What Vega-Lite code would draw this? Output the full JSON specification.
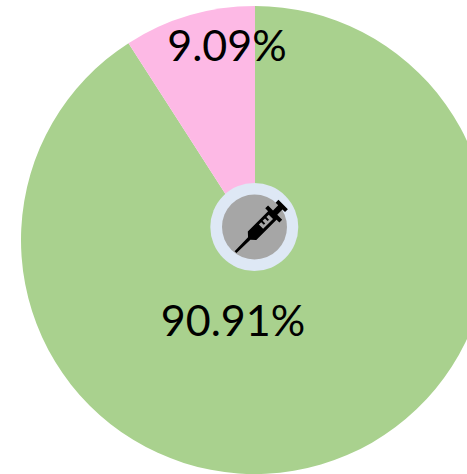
{
  "$schema": "https://vega.github.io/schema/vega-lite/v6.json",
  "width": 467,
  "height": 474,
  "padding": 0,
  "autosize": {"type": "none"},
  "background": "white",
  "config": {"view": {"stroke": null}},
  "datasets": {
    "slices": [
      {"label": "90.91%", "share": 90.91},
      {"label": "9.09%", "share": 9.09}
    ],
    "hub": [{"item": "syringe"}]
  },
  "layer": [
    {
      "data": {"name": "slices"},
      "mark": {"type": "arc", "outerRadius": 234, "innerRadius": 0},
      "encoding": {
        "x": {"datum": 255, "type": "quantitative", "scale": {"domain": [0, 467], "range": [0, 467], "nice": false, "zero": false}, "axis": null},
        "y": {"datum": 240, "type": "quantitative", "scale": {"domain": [0, 474], "range": [0, 474], "nice": false, "zero": false}, "axis": null},
        "theta": {"field": "share", "type": "quantitative", "stack": true, "scale": {"domain": [0, 100], "range": [0, 6.28319]}},
        "order": {"field": "share", "sort": "descending"},
        "color": {"field": "label", "type": "nominal", "scale": {"domain": ["90.91%", "9.09%"], "range": ["#A9D18E", "#FDB9E5"]}, "legend": null}
      }
    },
    {
      "data": {"name": "hub"},
      "mark": {"type": "point", "shape": "circle", "filled": true, "opacity": 1, "color": "#DEE8F5", "size": 7744},
      "encoding": {
        "x": {"datum": 254.3, "type": "quantitative", "axis": null},
        "y": {"datum": 227, "type": "quantitative", "axis": null}
      }
    },
    {
      "data": {"name": "hub"},
      "mark": {"type": "point", "shape": "circle", "filled": true, "opacity": 1, "color": "#A6A6A6", "size": 4225},
      "encoding": {
        "x": {"datum": 254.5, "type": "quantitative", "axis": null},
        "y": {"datum": 227, "type": "quantitative", "axis": null}
      }
    },
    {
      "data": {"name": "hub"},
      "mark": {"type": "point", "filled": true, "opacity": 1, "color": "black", "size": 2704,
        "shape": "M-1.015 .942L-.498 .408L-.507 .181L.272 -.598L.163 -.707L.272 -.815L.462 -.625L.661 -.824L.562 -.924L.67 -1.033L1.033 -.67L.924 -.562L.824 -.661L.625 -.462L.815 -.272L.707 -.163L.598 -.272L-.181 .507L-.408 .498L-.942 1.015Z"},
      "encoding": {
        "x": {"datum": 261, "type": "quantitative", "axis": null},
        "y": {"datum": 226.7, "type": "quantitative", "axis": null}
      }
    },
    {
      "data": {"name": "hub"},
      "mark": {"type": "point", "filled": true, "opacity": 1, "color": "#A6A6A6", "size": 2704,
        "shape": "M-.082 -.082L.009 -.172L.109 -.072L.163 -.127L.063 -.227L.154 -.317L.254 -.217L.308 -.272L.208 -.371L.299 -.462L.462 -.299L.082 .082Z"},
      "encoding": {
        "x": {"datum": 261, "type": "quantitative", "axis": null},
        "y": {"datum": 226.7, "type": "quantitative", "axis": null}
      }
    },
    {
      "data": {"name": "slices"},
      "transform": [{"filter": "datum.share < 50"}],
      "mark": {"type": "text", "font": "Lato", "fontSize": 43, "align": "center", "baseline": "middle", "color": "black"},
      "encoding": {
        "x": {"datum": 227, "type": "quantitative", "axis": null},
        "y": {"datum": 48, "type": "quantitative", "axis": null},
        "text": {"field": "label"}
      }
    },
    {
      "data": {"name": "slices"},
      "transform": [{"filter": "datum.share > 50"}],
      "mark": {"type": "text", "font": "Lato", "fontSize": 43, "align": "center", "baseline": "middle", "color": "black"},
      "encoding": {
        "x": {"datum": 233, "type": "quantitative", "axis": null},
        "y": {"datum": 323, "type": "quantitative", "axis": null},
        "text": {"field": "label"}
      }
    }
  ]
}
